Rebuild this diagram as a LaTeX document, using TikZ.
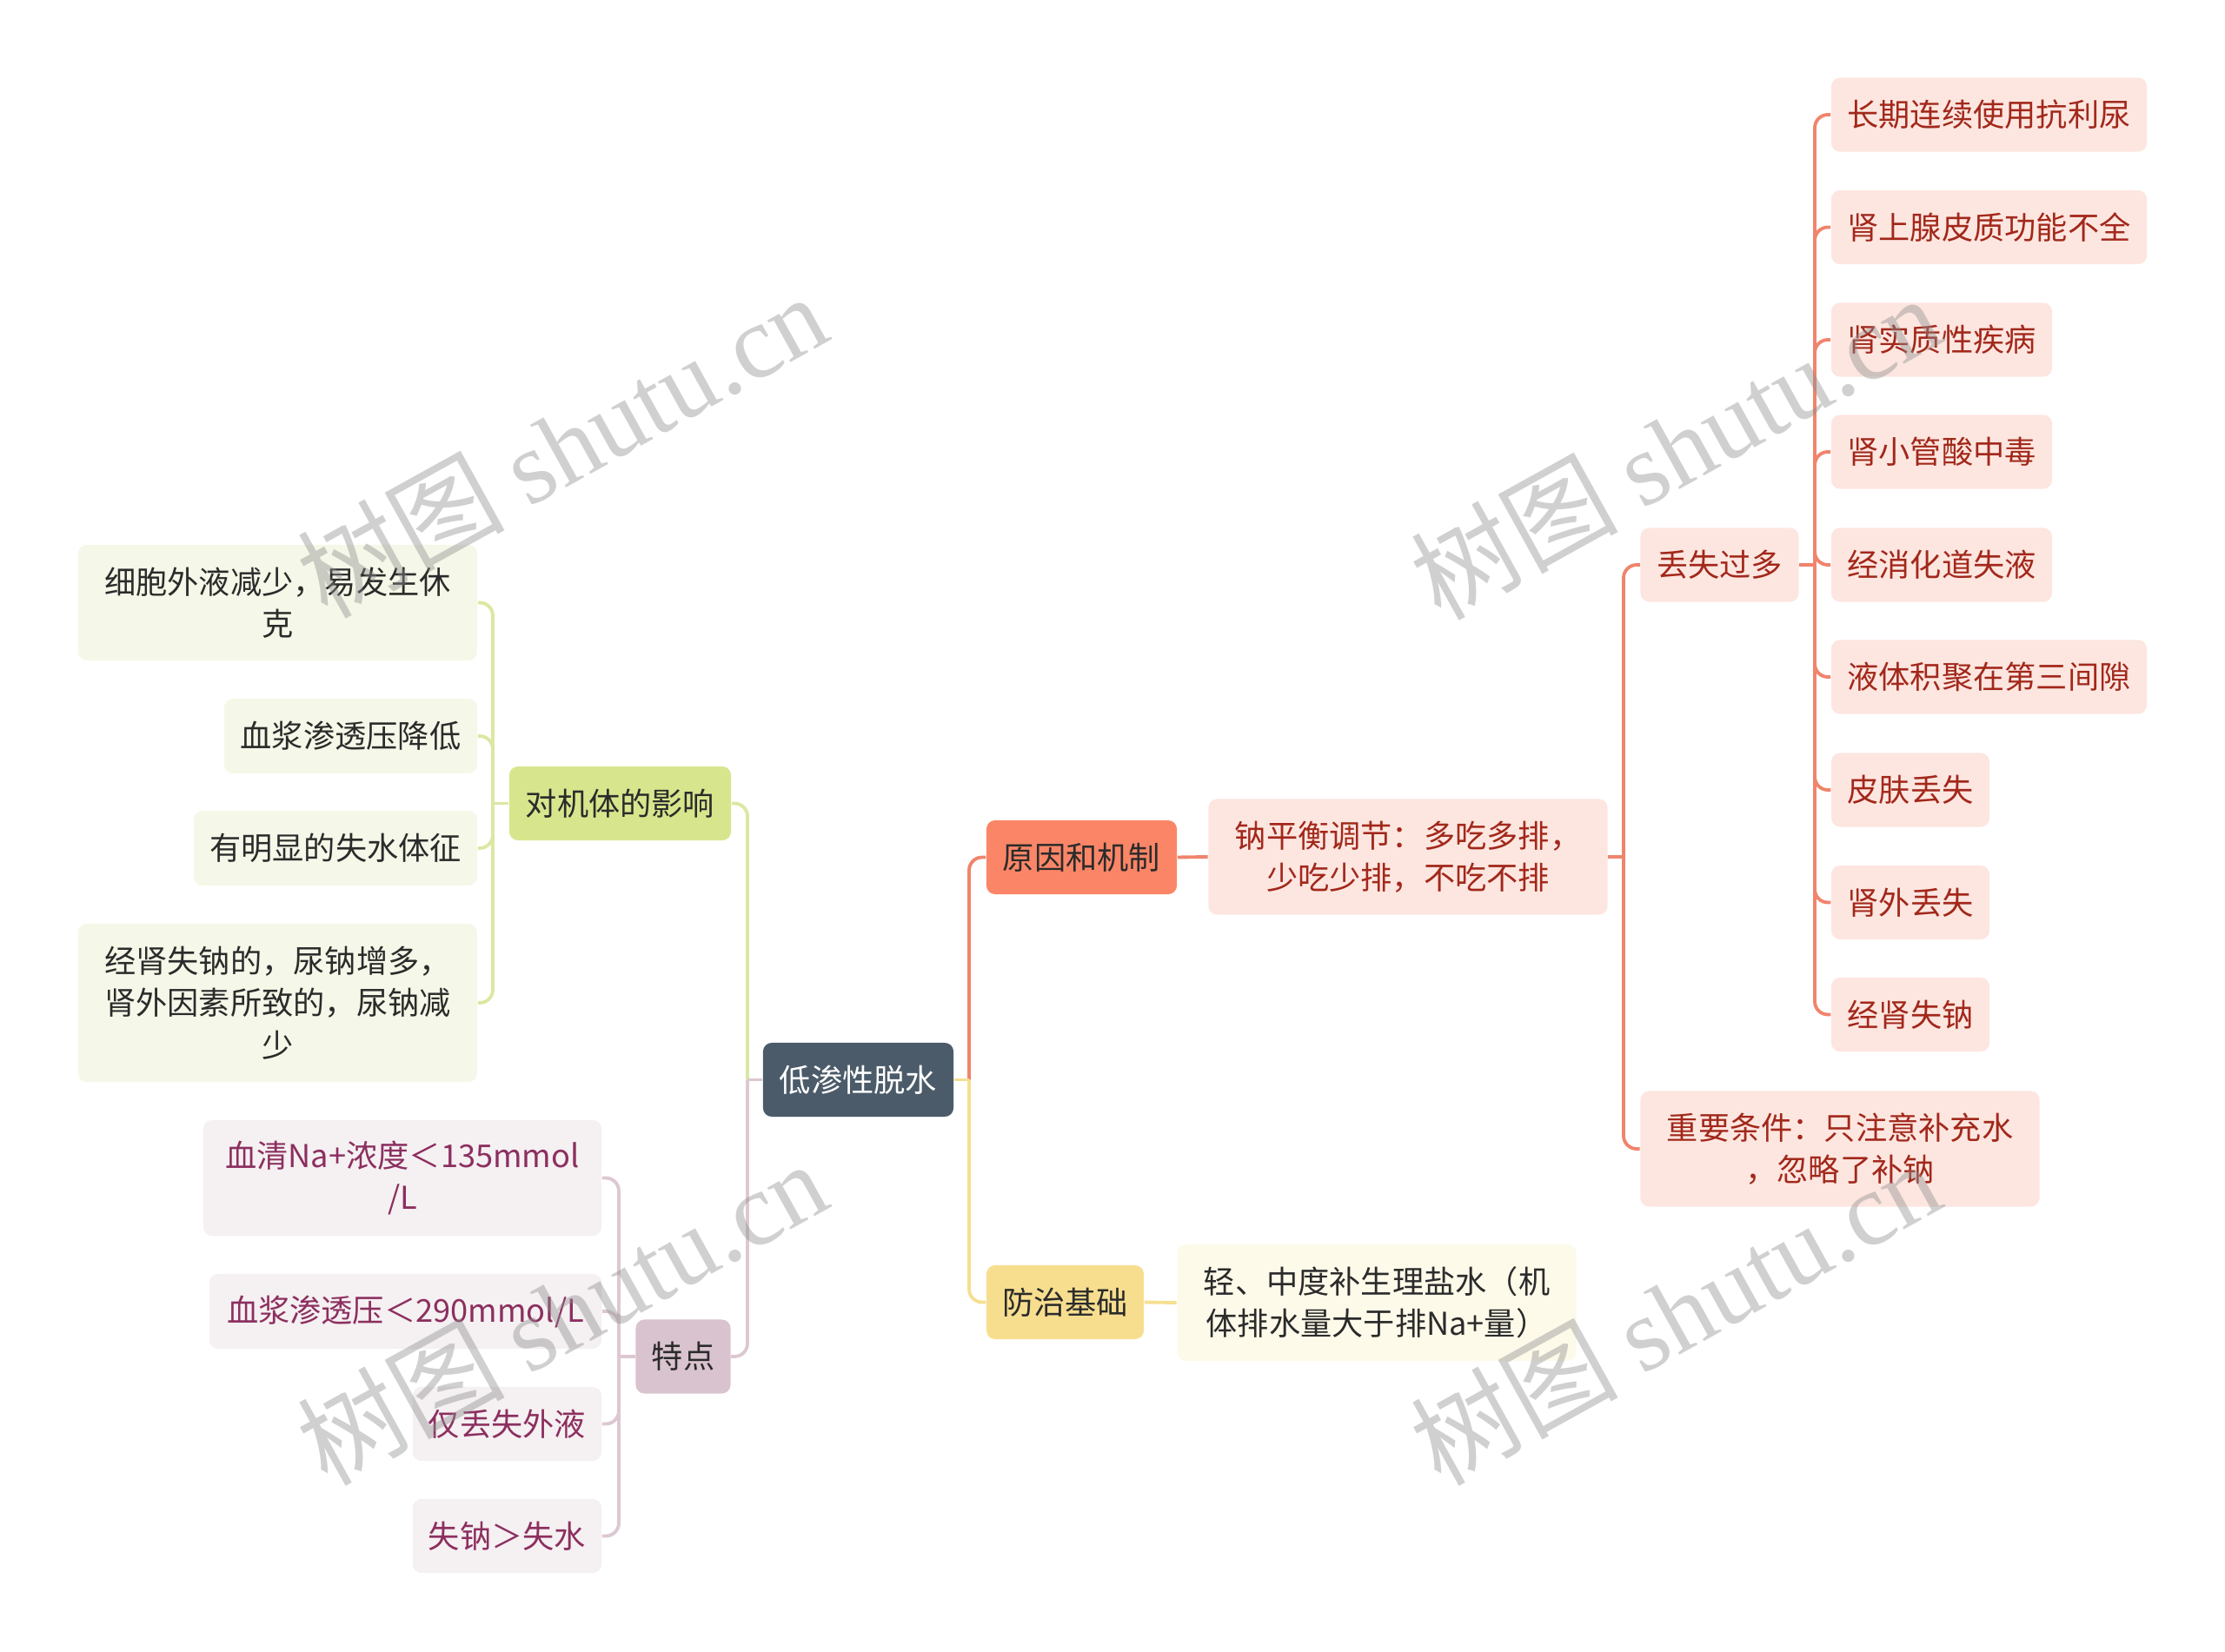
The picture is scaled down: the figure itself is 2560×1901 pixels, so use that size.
\documentclass[tikz,border=0pt]{standalone}
\usepackage{fontspec}
\setmainfont{Noto Sans CJK SC}
\newfontfamily\wmcjk{Noto Sans CJK SC}
\newfontfamily\wmlat{Liberation Serif}
\definecolor{rootfill}{HTML}{4B5B69}
\definecolor{causefill}{HTML}{FA8667}
\definecolor{causeline}{HTML}{F0846C}
\definecolor{redfill}{HTML}{FDE6E0}
\definecolor{redtext}{HTML}{A2281B}
\definecolor{prevfill}{HTML}{F7DE8F}
\definecolor{prevline}{HTML}{F6DF92}
\definecolor{prevleaf}{HTML}{FEFAEA}
\definecolor{efffill}{HTML}{D7E68D}
\definecolor{effline}{HTML}{DBE8A2}
\definecolor{effleaf}{HTML}{F5F8E8}
\definecolor{featfill}{HTML}{D9C3CE}
\definecolor{featline}{HTML}{DCC8D2}
\definecolor{featleaf}{HTML}{F5F0F2}
\definecolor{feattext}{HTML}{8C2F5F}
\definecolor{darktext}{HTML}{2B2B2B}
\definecolor{wmgray}{HTML}{8E8E8E}
\begin{document}
\begin{tikzpicture}[x=0.01cm,y=-0.01cm,
  basebox/.style={rounded corners=0.1cm, inner sep=0pt, align=center,
    font=\fontsize{10.3}{13.7}\selectfont},
  rootbox/.style={basebox, fill=rootfill, text=white},
  causebox/.style={basebox, fill=causefill, text=darktext},
  redleaf/.style={basebox, fill=redfill, text=redtext},
  prevbox/.style={basebox, fill=prevfill, text=darktext},
  prevleafbox/.style={basebox, fill=prevleaf, text=darktext},
  effbox/.style={basebox, fill=efffill, text=darktext},
  effleafbox/.style={basebox, fill=effleaf, text=darktext},
  featbox/.style={basebox, fill=featfill, text=darktext},
  featleafbox/.style={basebox, fill=featleaf, text=feattext},
  conn/.style={line width=1.1pt},
  rconn/.style={conn, rounded corners=0.15cm},
  wm/.style={text=wmgray, text opacity=0.42, inner sep=0pt, rotate=29,
    font=\fontsize{34}{34}\selectfont}
]
\useasboundingbox (0,0) rectangle (2560,1901);

% ---------- nodes ----------
\node[rootbox, minimum width=2.19cm, minimum height=0.85cm] (root) at (987.5,1242.5) {低渗性脱水};

\node[causebox, minimum width=2.19cm, minimum height=0.85cm] (cause) at (1244.5,986.5) {原因和机制};
\node[prevbox, minimum width=1.81cm, minimum height=0.85cm] (prev) at (1225.5,1498.5) {防治基础};
\node[effbox, minimum width=2.55cm, minimum height=0.85cm] (eff) at (713.5,924.5) {对机体的影响};
\node[featbox, minimum width=1.09cm, minimum height=0.85cm] (feat) at (786,1561) {特点};

\node[redleaf, minimum width=4.59cm, minimum height=1.33cm] (sod) at (1620,986) {钠平衡调节：多吃多排，\\少吃少排，不吃不排};
\node[prevleafbox, minimum width=4.59cm, minimum height=1.34cm] (prevl) at (1584,1499) {轻、中度补生理盐水（机\\体排水量大于排Na+量）};

\node[redleaf, minimum width=1.82cm, minimum height=0.85cm] (loss) at (1978.5,650) {丢失过多};
\node[redleaf, minimum width=4.59cm, minimum height=1.33cm] (cond) at (2117,1322) {重要条件：只注意补充水\\，忽略了补钠};

\node[redleaf, minimum width=3.63cm, minimum height=0.85cm] (r1) at (2288.5,132) {长期连续使用抗利尿};
\node[redleaf, minimum width=3.63cm, minimum height=0.85cm] (r2) at (2288.5,261.5) {肾上腺皮质功能不全};
\node[redleaf, minimum width=2.54cm, minimum height=0.85cm] (r3) at (2234,391) {肾实质性疾病};
\node[redleaf, minimum width=2.54cm, minimum height=0.85cm] (r4) at (2234,520) {肾小管酸中毒};
\node[redleaf, minimum width=2.54cm, minimum height=0.85cm] (r5) at (2234,650) {经消化道失液};
\node[redleaf, minimum width=3.63cm, minimum height=0.85cm] (r6) at (2288.5,779) {液体积聚在第三间隙};
\node[redleaf, minimum width=1.82cm, minimum height=0.85cm] (r7) at (2198,909) {皮肤丢失};
\node[redleaf, minimum width=1.82cm, minimum height=0.85cm] (r8) at (2198,1038.5) {肾外丢失};
\node[redleaf, minimum width=1.82cm, minimum height=0.85cm] (r9) at (2198,1167.5) {经肾失钠};

\node[effleafbox, minimum width=4.59cm, minimum height=1.33cm] (e1) at (319.5,693.5) {细胞外液减少，易发生休\\克};
\node[effleafbox, minimum width=2.91cm, minimum height=0.86cm] (e2) at (403.5,847) {血浆渗透压降低};
\node[effleafbox, minimum width=3.26cm, minimum height=0.86cm] (e3) at (386,976) {有明显的失水体征};
\node[effleafbox, minimum width=4.59cm, minimum height=1.82cm] (e4) at (319.5,1154) {经肾失钠的，尿钠增多，\\肾外因素所致的，尿钠减\\少};

\node[featleafbox, minimum width=4.58cm, minimum height=1.33cm] (f1) at (463,1355.5) {血清Na+浓度＜135mmol\\/L};
\node[featleafbox, minimum width=4.51cm, minimum height=0.86cm] (f2) at (466.5,1509) {血浆渗透压＜290mmol/L};
\node[featleafbox, minimum width=2.17cm, minimum height=0.85cm] (f3) at (583.5,1638.5) {仅丢失外液};
\node[featleafbox, minimum width=2.17cm, minimum height=0.85cm] (f4) at (583.5,1767.5) {失钠＞失水};

% ---------- junctions ----------
\coordinate (jrR) at (1115,1242.5);
\coordinate (jrL) at (860,1242.5);
\coordinate (jeff) at (567,924.5);
\coordinate (jfeat) at (712,1561);
\coordinate (jsod) at (1868,986);
\coordinate (jloss) at (2088,650);

% ---------- connectors ----------
\draw[conn, causeline] (root.east) -- (jrR);
\draw[rconn, causeline] (jrR) |- (cause.west);
\draw[conn, prevline] (root.east) -- (jrR);
\draw[rconn, prevline] (jrR) |- (prev.west);

\draw[conn, effline] (root.west) -- (jrL);
\draw[rconn, effline] (jrL) |- (eff.east);
\draw[conn, featline] (root.west) -- (jrL);
\draw[rconn, featline] (jrL) |- (feat.east);

\draw[conn, causeline] (cause.east) -- (sod.west);
\draw[conn, prevline] (prev.east) -- (prevl.west);

\draw[conn, causeline] (sod.east) -- (jsod);
\draw[rconn, causeline] (jsod) |- (loss.west);
\draw[rconn, causeline] (jsod) |- (cond.west);

\draw[conn, causeline] (loss.east) -- (jloss);
\foreach \n in {r1,r2,r3,r4,r5,r6,r7,r8,r9}
  \draw[rconn, causeline] (jloss) |- (\n.west);

\draw[conn, effline] (eff.west) -- (jeff);
\foreach \n in {e1,e2,e3,e4}
  \draw[rconn, effline] (jeff) |- (\n.east);

\draw[conn, featline] (feat.west) -- (jfeat);
\foreach \n in {f1,f2,f3,f4}
  \draw[rconn, featline] (jfeat) |- (\n.east);

% ---------- watermarks ----------
\node[wm] (w1) at (646,512) {{\wmcjk 树图} {\wmlat shutu.cn}};
\node[wm] (w2) at (1927,514) {{\wmcjk 树图} {\wmlat shutu.cn}};
\node[wm] (w3) at (646,1510) {{\wmcjk 树图} {\wmlat shutu.cn}};
\node[wm] (w4) at (1927,1510) {{\wmcjk 树图} {\wmlat shutu.cn}};
\end{tikzpicture}
\end{document}
